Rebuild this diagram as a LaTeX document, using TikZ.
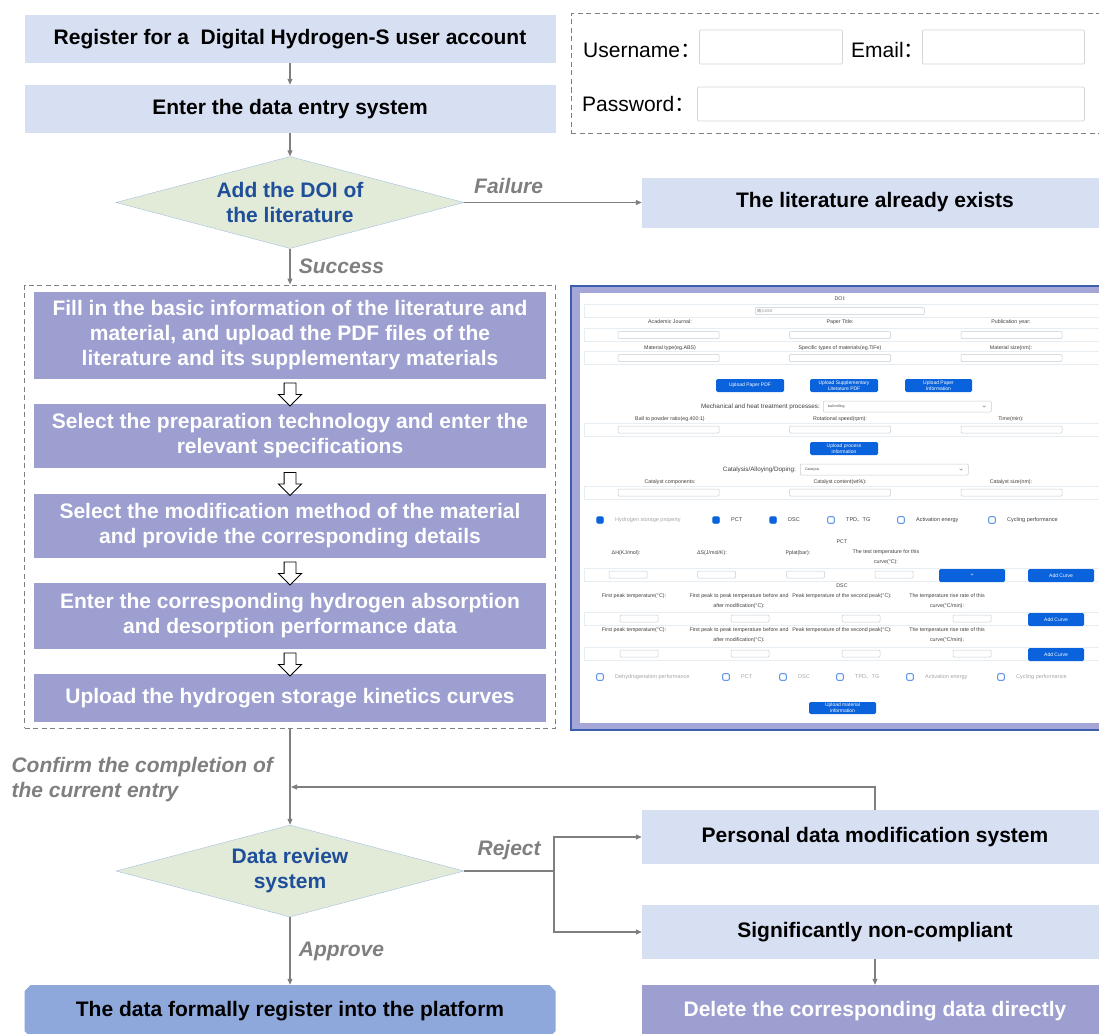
\documentclass[tikz,border=0pt]{standalone}
\usepackage{fontspec}
\usepackage{tikz}
\setmainfont{Liberation Sans}
\newfontfamily\cjk{Noto Sans CJK SC}
\usetikzlibrary{arrows.meta,positioning,shapes.geometric,shapes.misc,shapes.arrows,calc}
\definecolor{lb}{HTML}{D7DFF3}
\definecolor{pp}{HTML}{9C9FD0}
\definecolor{fb}{HTML}{8FA8DC}
\definecolor{dg}{HTML}{E2EBD7}
\definecolor{dl}{HTML}{A6BEE6}
\definecolor{dt}{HTML}{1F4E9A}
\definecolor{tg}{HTML}{7F7F7F}
\definecolor{bt}{HTML}{0A62DC}
\definecolor{fm}{HTML}{3D5DAE}
\definecolor{fp}{HTML}{A3A6D6}
\definecolor{rw}{HTML}{E6EEF4}
\definecolor{fl}{HTML}{C8CCD0}
\newcommand{\dun}{{\cjk 、}}
\newcommand{\wcolon}{{\cjk ：}}
\tikzset{
  box/.style={fill=lb,minimum height=50pt,align=center,inner sep=4pt,font=\fontsize{21}{25}\selectfont\bfseries},
  lbox/.style={box,minimum width=531pt},
  rbox/.style={box,minimum width=466pt,minimum height=54pt},
  pbox/.style={box,fill=pp,text=white,minimum width=512pt},
  dec/.style={diamond,aspect=3.8,fill=dg,draw=dl,inner sep=0pt,minimum width=348pt,minimum height=92pt,text=dt,align=center,font=\fontsize{21}{25}\selectfont\bfseries},
  tag/.style={text=tg,align=left,font=\fontsize{21}{25}\selectfont\bfseries\itshape},
  ar/.style={-{Triangle[length=6pt,width=5pt]},draw=tg,line width=1.1pt},
  ln/.style={draw=tg,line width=1.1pt},
  hol/.style={single arrow,shape border rotate=270,draw=black,fill=white,line width=0.9pt,inner sep=5.5pt,single arrow head extend=5.5pt,minimum height=23pt},
  frm/.style={draw=tg,dash pattern=on 5pt off 3.5pt,line width=1pt},
  acc/.style={anchor=west,inner sep=0pt,font=\fontsize{21}{25}\selectfont},
  afld/.style={draw=fl!80,fill=white,rounded corners=1pt,line width=0.8pt,minimum height=34pt},
  % entry form screenshot
  ft/.style={inner sep=0pt,align=center,text=black!75,font=\fontsize{5.3}{9.5}\selectfont},
  fld/.style={draw=fl,fill=white,rounded corners=1pt,line width=0.5pt,minimum height=7pt,inner sep=0pt},
  btn/.style={fill=bt,rounded corners=1.5pt,text=white,inner sep=0pt,align=center,minimum height=13pt,font=\fontsize{5}{6}\selectfont},
  ck/.style={draw=bt,line width=0.6pt,rounded corners=1pt,minimum size=6.5pt,inner sep=0pt},
  band/.style={draw=rw,line width=0.6pt},
}
\begin{document}
\begin{tikzpicture}[x=1pt,y=-1pt]
\useasboundingbox (0,0) rectangle (1099,1033);

% account form
\node[frm,minimum width=537pt,minimum height=119pt] (acct) at (839.5,73.5) {};
\node[acc] (uname) at (583,50) {Username\wcolon};
\node[afld,anchor=west,minimum width=143pt] (ufield) at (699,47) {};
\node[acc] (email) at (851,50) {Email\wcolon};
\node[afld,anchor=west,minimum width=162pt] (efield) at (922,47) {};
\node[acc] (pword) at (582,104) {Password\wcolon};
\node[afld,anchor=west,minimum width=387pt] (pfield) at (697,104) {};

% main flow
\node[lbox,minimum height=48pt] (reg) at (290,39) {Register for a\ \ Digital Hydrogen-S user account};
\node[lbox,minimum height=48pt] (enter) at (290,109) {Enter the data entry system};
\node[dec] (doi) at (290,202.5) {Add the DOI of\\the literature};
\node[rbox,minimum height=50pt] (exists) at (875,202.5) {The literature already exists};
\node[frm,minimum width=531pt,minimum height=443pt] (entry) at (290,506.5) {};
\node[pbox,minimum height=87pt] (p1) at (290,335.5) {Fill in the basic information of the literature and\\material, and upload the PDF files of the\\literature and its supplementary materials};
\node[pbox,minimum height=64pt] (p2) at (290,436) {Select the preparation technology and enter the\\relevant specifications};
\node[pbox,minimum height=64pt] (p3) at (290,526) {Select the modification method of the material\\and provide the corresponding details};
\node[pbox,minimum height=66pt] (p4) at (290,616) {Enter the corresponding hydrogen absorption\\and desorption performance data};
\node[pbox,minimum height=48pt] (p5) at (290,698) {Upload the hydrogen storage kinetics curves};
\foreach \a/\b in {p1/p2,p2/p3,p3/p4,p4/p5}
  \node[hol] (h\a) at ($(\a.south)!0.5!(\b.north)$) {};

\node[tag,anchor=west] (confirm) at (8,780) {Confirm the completion of\\the current entry};
\node[dec] (review) at (290,871) {Data review\\system};
\node[rbox] (personal) at (875,837) {Personal data modification system};
\node[rbox] (noncomp) at (875,932) {Significantly non-compliant};
\node[rbox,fill=pp,text=white,minimum height=52pt] (delete) at (875,1011) {Delete the corresponding data directly};
\node[lbox,chamfered rectangle,chamfered rectangle xsep=3pt,chamfered rectangle ysep=3pt,fill=fb,minimum height=52pt] (platform) at (290,1011) {The data formally register into the platform};

\draw[ar] (reg) -- (enter);
\draw[ar] (enter) -- (doi);
\draw[ar] (doi) -- node[tag,pos=0.25,above=5pt] {Failure} (exists);
\draw[ar] (doi) -- node[tag,right=5pt] {Success} (entry);
\draw[ar] (entry) -- (review);
\coordinate (back) at (291,787);
\draw[ar] (personal.north) |- (back);
\coordinate (split) at (554,871);
\draw[ln] (review) -- node[tag,above=7pt] {Reject} (split);
\draw[ar] (split) |- (personal);
\draw[ar] (split) |- (noncomp);
\draw[ar] (noncomp) -- (delete);
\draw[ar] (review) -- node[tag,right=5pt] {Approve} (platform);

% screenshot of the entry form
\draw[draw=fm,line width=1.5pt,fill=fp] (571,286) rectangle (1112,730);
\fill[white] (580,293) rectangle (1112,723);
\foreach \y in {311,335,358,429.5,492.5,575,619,654}
  \draw[band] (584,\y-6.5) rectangle (1104,\y+6.5);

\node[ft] (doilab) at (840,299) {DOI:};
\node[fld,anchor=west,minimum width=169pt] (doifld) at (755,311) {};
\node[ft,anchor=west,text=gray,font=\fontsize{4}{5}\selectfont] (doihint) at ([xshift=2pt]doifld.west) {{\cjk 输入}DOI};

\foreach \ly/\fy/\la/\lb/\lc [count=\r] in {
  322/335/{Academic Journal:}/{Paper Title:}/{Publication year:},
  348/358/{Material type(eg.ABS)}/{Specific types of materials(eg.TiFe)}/{Material size(nm):},
  419/429.5/{Ball to powder ratio(eg.400:1)}/{Rotational speed(rpm):}/{Time(min):},
  482/492.5/{Catalyst components:}/{Catalyst content(wt\%):}/{Catalyst size(nm):}}{
  \node[ft] (la\r) at (670,\ly) {\la};
  \node[ft] (lb\r) at (840,\ly) {\lb};
  \node[ft] (lc\r) at (1011,\ly) {\lc};
  \node[fld,minimum width=101pt] (ia\r) at (668.5,\fy) {};
  \node[fld,minimum width=101pt] (ib\r) at (840,\fy) {};
  \node[fld,minimum width=101pt] (ic\r) at (1011.5,\fy) {};
}

\node[btn,minimum width=68pt] (bpdf) at (750,385.5) {Upload Paper PDF};
\node[btn,minimum width=68pt] (bsup) at (844,385.5) {Upload Supplementary\\Literature PDF};
\node[btn,minimum width=67pt] (binfo) at (938.5,385.5) {Upload Paper\\Information};

\node[ft,anchor=east,font=\fontsize{6.3}{7}\selectfont] (mech) at (820,406.5) {Mechanical and heat treatment processes:};
\node[fld,anchor=west,minimum width=168pt,minimum height=11pt] (mechsel) at (823,406.5) {};
\node[ft,anchor=west,font=\fontsize{3.5}{4}\selectfont] (mechval) at ([xshift=5pt]mechsel.west) {ball milling};
\draw[gray,line width=0.4pt] ([xshift=-9pt,yshift=0.8pt]mechsel.east) -- ++(1.5,1.5) -- ++(1.5,-1.5);

\node[btn,minimum width=68pt] (bproc) at (844,448.5) {Upload process\\information};
\node[ft,anchor=east,font=\fontsize{6.3}{7}\selectfont] (cat) at (796,469.5) {Catalysis/Alloying/Doping:};
\node[fld,anchor=west,minimum width=168pt,minimum height=11pt] (catsel) at (800,469.5) {};
\node[ft,anchor=west,font=\fontsize{3.5}{4}\selectfont] (catval) at ([xshift=5pt]catsel.west) {Catalysis};
\draw[gray,line width=0.4pt] ([xshift=-9pt,yshift=0.8pt]catsel.east) -- ++(1.5,1.5) -- ++(1.5,-1.5);

\foreach \bx/\fc/\tx/\tc [count=\k] in {600/bt/{Hydrogen storage property}/gray!70,716/bt/PCT/black!75,773/bt/DSC/black!75,831/white/{TPD\dun TG}/black!75,901/white/{Activation energy}/black!75,992/white/{Cycling performance}/black!75}{
  \node[ck,fill=\fc] (ca\k) at (\bx,520) {};
  \node[ft,anchor=west,text=\tc,font=\fontsize{5.5}{6}\selectfont] (ta\k) at (\bx+15,520) {\tx};
}

\node[ft] (pct) at (842,542) {PCT};
\node[ft] (dh) at (626,553) {ΔH(KJ/mol):};
\node[ft] (ds) at (712,553) {ΔS(J/mol/K):};
\node[ft] (pplat) at (798,553) {Pplat(bar):};
\node[ft,anchor=north] (ttemp) at (886,549.5) {The test temperature for this\\curve(°C):};
\foreach \fx [count=\k] in {628,716.5,805.5,894}
  \node[fld,minimum width=38pt] (ip\k) at (\fx,574.5) {};
\node[btn,minimum width=66pt] (bplus) at (972,575.5) {+};
\node[btn,minimum width=66pt] (bpct) at (1061,575.5) {Add Curve};

\node[ft] (dsc) at (842,586) {DSC};
\foreach \ty/\fy [count=\r] in {597/618.5,631/653.5}{
  \node[ft,anchor=north] (da\r) at (634,\ty-3.5) {First peak temperature(°C):};
  \node[ft,anchor=north] (db\r) at (739,\ty-3.5) {First peak to peak temperature before and\\after modification(°C):};
  \node[ft,anchor=north] (dc\r) at (842,\ty-3.5) {Peak temperature of the second peak(°C):};
  \node[ft,anchor=north] (dd\r) at (947,\ty-3.5) {The temperature rise rate of this\\curve(°C/min):};
  \foreach \fx [count=\k] in {639,750,861,972}
    \node[fld,minimum width=38pt] (id\r\k) at (\fx,\fy) {};
  \node[btn,minimum width=56pt] (bdsc\r) at (1056,\fy+1) {Add Curve};
}

\foreach \bx/\tx [count=\k] in {600/{Dehydrogenation performance},726/PCT,783/DSC,840/{TPD\dun TG},910/{Activation energy},1001/{Cycling performance}}{
  \node[ck,fill=white] (cb\k) at (\bx,677) {};
  \node[ft,anchor=west,text=gray!70,font=\fontsize{5.5}{6}\selectfont] (tb\k) at (\bx+15,677) {\tx};
}
\node[btn,minimum width=67pt,minimum height=12pt] (bmat) at (842.5,708) {Upload material\\information};
\end{tikzpicture}
\end{document}
